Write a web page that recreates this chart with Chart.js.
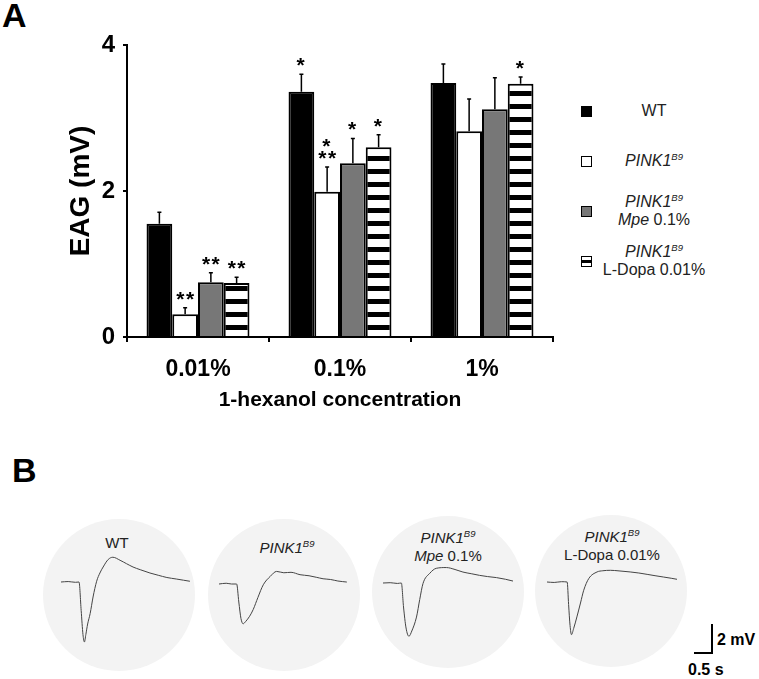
<!DOCTYPE html>
<html>
<head>
<meta charset="utf-8">
<script src="https://cdn.jsdelivr.net/npm/chart.js@4.4.1/dist/chart.umd.min.js"></script>
<style>
  html,body{margin:0;padding:0;background:#fff;}
  body{width:759px;height:679px;position:relative;overflow:hidden;font-family:"Liberation Sans",Arial,sans-serif;}
  .abs{position:absolute;}
  .panel{font-weight:bold;font-size:34px;line-height:34px;color:#000;}
  .circle{position:absolute;border-radius:50%;background:#f3f3f3;}
  .ctitle{position:absolute;text-align:center;font-size:15px;line-height:18px;color:#222;}
  .leg{position:absolute;left:575px;top:86px;}
  .row{height:50px;display:flex;align-items:center;}
  .sw{width:9px;height:9px;border:1.5px solid #000;margin-left:6px;}
  .lt{width:112px;margin-left:6px;text-align:center;font-size:16px;line-height:18px;color:#222;}
  sup{font-size:9.5px;font-style:italic;vertical-align:6px;line-height:0;}
  .trace{position:absolute;}
</style>
</head>
<body>
<div class="abs panel" style="left:2px;top:-2px;">A</div>
<div class="abs panel" style="left:12px;top:453px;">B</div>

<div class="abs" style="left:0;top:0;width:560px;height:420px;"><canvas id="bars"></canvas></div>
<div class="leg" id="legend"></div>

<div id="panelB"></div>

<!-- scale bar -->
<div class="abs" style="left:711px;top:624px;width:2px;height:30px;background:#000;"></div>
<div class="abs" style="left:694px;top:652px;width:19px;height:2px;background:#000;"></div>
<div class="abs" style="left:717px;top:631px;font-weight:bold;font-size:16px;line-height:18px;">2 mV</div>
<div class="abs" style="left:688px;top:661px;font-weight:bold;font-size:16px;line-height:18px;">0.5 s</div>

<script>
// ---------- Panel A data ----------
const categories = ['0.01%', '0.1%', '1%'];
const seriesNames = ['WT', 'PINK1', 'PINK1', 'PINK1'];
const seriesSup   = ['', 'B9', 'B9', 'B9'];
const seriesLine2 = ['', '', 'Mpe| 0.1%', 'L-Dopa 0.01%'];
const wtValues     = [1.55, 3.36, 3.48];
const wtErrors     = [0.16, 0.24, 0.26];
const pinkValues   = [0.31, 1.99, 2.82];
const pinkErrors   = [0.09, 0.34, 0.44];
const mpeValues    = [0.75, 2.38, 3.12];
const mpeErrors    = [0.13, 0.34, 0.43];
const dopaValues   = [0.74, 2.60, 3.47];
const dopaErrors   = [0.08, 0.17, 0.09];
const wtSig   = ['', '*', ''];
const pinkSig = ['**', '*\n**', ''];
const mpeSig  = ['**', '*', ''];
const dopaSig = ['**', '*', '*'];
const yTicks  = [0, 2, 4];

// ---------- Panel B data (EAG traces, time in s, voltage in mV) ----------
const traceLabels = ['WT', 'PINK1', 'PINK1', 'PINK1'];
const traceSup    = ['', 'B9', 'B9', 'B9'];
const traceLine2  = ['', '', 'Mpe| 0.1%', 'L-Dopa 0.01%'];
const wtTime   = [0,0.2,0.4,0.5,0.56,0.61,0.65,0.69,0.74,0.81,0.89,0.99,1.08,1.17,1.31,1.44,1.64,1.82,2.0,2.2,2.47,2.7,2.94,3.2,3.4,3.58];
const wtTrace  = [0,0.03,-0.02,0,-1.9,-3.5,-4.0,-3.5,-2.8,-2.1,-1.0,0.05,0.6,1.0,1.5,1.65,1.45,1.22,1.0,0.82,0.6,0.45,0.3,0.2,0.12,0.05];
const pinkTime  = [0,0.2,0.35,0.49,0.55,0.61,0.67,0.74,0.85,0.95,1.08,1.23,1.42,1.6,1.8,2.0,2.25,2.5,2.7,2.89,3.1,3.3,3.55];
const pinkTrace = [0,0.05,0.0,0,-1.2,-2.3,-2.65,-2.5,-2.15,-1.7,-0.9,-0.05,0.5,0.84,0.75,0.78,0.62,0.55,0.45,0.35,0.3,0.2,0.13];
const mpeTime  = [0,0.2,0.4,0.51,0.57,0.64,0.72,0.8,0.93,1.02,1.11,1.3,1.48,1.76,2.0,2.22,2.45,2.68,2.9,3.15,3.4,3.61];
const mpeTrace = [0,0.02,-0.03,0,-1.6,-3.0,-3.55,-3.2,-2.27,-1.1,-0.04,0.65,0.98,1.03,0.9,0.73,0.62,0.51,0.43,0.36,0.25,0.13];
const dopaTime  = [0,0.2,0.4,0.56,0.6,0.64,0.68,0.74,0.83,0.93,1.02,1.16,1.39,1.55,1.76,2.0,2.31,2.55,2.78,3.0,3.24,3.45,3.61];
const dopaTrace = [0,-0.03,0.02,0,-1.5,-2.9,-3.51,-3.1,-2.33,-1.4,-0.55,0.23,0.67,0.75,0.78,0.74,0.67,0.6,0.51,0.42,0.33,0.25,0.18];

const FONT = '"Liberation Sans", Arial, sans-serif';

// stripe pattern for L-Dopa bars
function stripePattern(ctx){
  const c = document.createElement('canvas'); c.width = 4; c.height = 13;
  const g = c.getContext('2d');
  g.fillStyle = '#fff'; g.fillRect(0,0,4,13);
  g.fillStyle = '#000'; g.fillRect(0,0,4,5);
  return ctx.createPattern(c, 'repeat');
}

const barCanvas = document.getElementById('bars');
const pat = stripePattern(barCanvas.getContext('2d'));

const errPlugin = {
  id: 'errbars',
  afterDatasetsDraw(chart){
    const ctx = chart.ctx, ys = chart.scales.y;
    chart.data.datasets.forEach((ds, i) => {
      const meta = chart.getDatasetMeta(i);
      meta.data.forEach((bar, j) => {
        const v = ds.data[j], e = ds.errs[j];
        const yTop = ys.getPixelForValue(v + e), yBar = ys.getPixelForValue(v);
        ctx.save();
        ctx.strokeStyle = '#000'; ctx.lineWidth = 1.5;
        ctx.beginPath();
        ctx.moveTo(bar.x, yBar); ctx.lineTo(bar.x, yTop);
        ctx.moveTo(bar.x - 2, yTop); ctx.lineTo(bar.x + 2, yTop);
        ctx.stroke();
        const s = ds.sig[j];
        if (s) {
          ctx.fillStyle = '#000';
          ctx.font = 'bold 21px ' + FONT;
          ctx.letterSpacing = '1.5px';
          ctx.textAlign = 'center'; ctx.textBaseline = 'alphabetic';
          const lines = s.split('\n');
          for (let k = lines.length - 1, n = 0; k >= 0; k--, n++) {
            ctx.fillText(lines[k], bar.x + (lines[k].length > 1 ? 0.75 : 0), yTop - 2 - n * 12);
          }
        }
        ctx.restore();
      });
    });
  }
};

const fills = ['#000', '#fff', '#777', pat];
const allValues = [wtValues, pinkValues, mpeValues, dopaValues];
const allErrors = [wtErrors, pinkErrors, mpeErrors, dopaErrors];
const allSig = [wtSig, pinkSig, mpeSig, dopaSig];

new Chart(barCanvas, {
  type: 'bar',
  data: {
    labels: categories,
    datasets: seriesNames.map((n, i) => ({
      label: n + (seriesSup[i] ? ' ' + seriesSup[i] : '') + (seriesLine2[i] ? ' ' + seriesLine2[i].replace('|','') : ''),
      data: allValues[i],
      errs: allErrors[i],
      sig: allSig[i],
      backgroundColor: fills[i],
      borderColor: '#000',
      borderWidth: 2,
      borderSkipped: 'bottom',
      categoryPercentage: 0.725,
      barPercentage: 1.0
    }))
  },
  options: {
    responsive: true, maintainAspectRatio: false, animation: false,
    devicePixelRatio: 1,
    layout: { padding: { left: 0, right: 7, top: 45, bottom: 0 } },
    plugins: { legend: { display: false }, tooltip: { enabled: false } },
    scales: {
      x: {
        offset: true,
        grid: { display: true, drawOnChartArea: false, offset: true, tickLength: 5, color: '#000', lineWidth: 2 },
        border: { display: true, color: '#000', width: 2 },
        ticks: { color: '#000', font: { family: FONT, size: 23, weight: 'bold' }, padding: 14 },
        title: { display: true, text: '1-hexanol concentration', color: '#000',
                 font: { family: FONT, size: 21, weight: 'bold' }, padding: { top: 0, bottom: 7 } },
        afterFit(scale){ scale.height = 83; }
      },
      y: {
        min: 0, max: 4,
        afterBuildTicks(scale){ scale.ticks = yTicks.map(v => ({ value: v })); },
        grid: { display: true, drawOnChartArea: false, tickLength: 4, color: '#000', lineWidth: 2 },
        border: { display: true, color: '#000', width: 2 },
        ticks: { color: '#000', font: { family: FONT, size: 24, weight: 'bold' }, padding: 8 },
        title: { display: true, text: 'EAG (mV)', color: '#000',
                 font: { family: FONT, size: 28, weight: 'bold' }, padding: { top: 64, bottom: 0 } },
        afterFit(scale){ scale.width = 127; }
      }
    }
  },
  plugins: [errPlugin]
});

// ---------- HTML legend ----------
function labelHTML(name, sup, line2){
  let h = '<i>' + name + '</i>';
  if (name === 'WT') h = name;
  if (sup) h += '<sup>' + sup + '</sup>';
  if (line2) {
    const parts = line2.split('|');
    h += '<br>' + (parts.length > 1 ? '<i>' + parts[0] + '</i>' + parts[1] : parts[0]);
  }
  return h;
}
const swatchBg = ['#000', '#fff', '#777', 'linear-gradient(#fff 0 3px,#000 3px 6px,#fff 6px)'];
const leg = document.getElementById('legend');
seriesNames.forEach((n, i) => {
  const row = document.createElement('div'); row.className = 'row';
  row.innerHTML = '<div class="sw" style="background:' + swatchBg[i] + '"></div>' +
                  '<div class="lt">' + labelHTML(n, seriesSup[i], seriesLine2[i]) + '</div>';
  leg.appendChild(row);
});

// ---------- Panel B ----------
const circles = [[119, 595], [284, 595], [448, 592], [611, 591]];
const R = 76;
const traceBoxes = [[61, 551.7], [219, 554.3], [383.3, 552.7], [546.7, 551.7]];
const titleBoxes = [[117, 543], [287, 548], [448, 538], [612, 537]];
const times = [wtTime, pinkTime, mpeTime, dopaTime];
const traces = [wtTrace, pinkTrace, mpeTrace, dopaTrace];
const pb = document.getElementById('panelB');
circles.forEach((c, i) => {
  const d = document.createElement('div'); d.className = 'circle';
  d.style.left = (c[0] - R) + 'px'; d.style.top = (c[1] - R) + 'px';
  d.style.width = (2 * R) + 'px'; d.style.height = (2 * R) + 'px';
  pb.appendChild(d);
});
traceLabels.forEach((n, i) => {
  const t = document.createElement('div'); t.className = 'ctitle';
  t.style.left = (titleBoxes[i][0] - 60) + 'px'; t.style.top = (titleBoxes[i][1] - 9) + 'px';
  t.style.width = '120px';
  t.innerHTML = labelHTML(n, traceSup[i], traceLine2[i]);
  pb.appendChild(t);
});
traces.forEach((tr, i) => {
  const box = document.createElement('div'); box.className = 'trace';
  box.style.left = traceBoxes[i][0] + 'px'; box.style.top = traceBoxes[i][1] + 'px';
  box.style.width = '130px'; box.style.height = '93px';
  const cv = document.createElement('canvas'); box.appendChild(cv); pb.appendChild(box);
  new Chart(cv, {
    type: 'line',
    data: { datasets: [{ data: times[i].map((t, k) => ({ x: t, y: tr[k] })),
      borderColor: '#444', borderWidth: 1, pointRadius: 0, cubicInterpolationMode: 'monotone', clip: false }] },
    options: {
      responsive: true, maintainAspectRatio: false, animation: false, devicePixelRatio: 1,
      layout: { padding: 0 },
      plugins: { legend: { display: false }, tooltip: { enabled: false } },
      scales: {
        x: { type: 'linear', min: 0, max: 3.61, display: false },
        y: { min: -4.2, max: 2.0, display: false }
      }
    }
  });
});
</script>
</body>
</html>
